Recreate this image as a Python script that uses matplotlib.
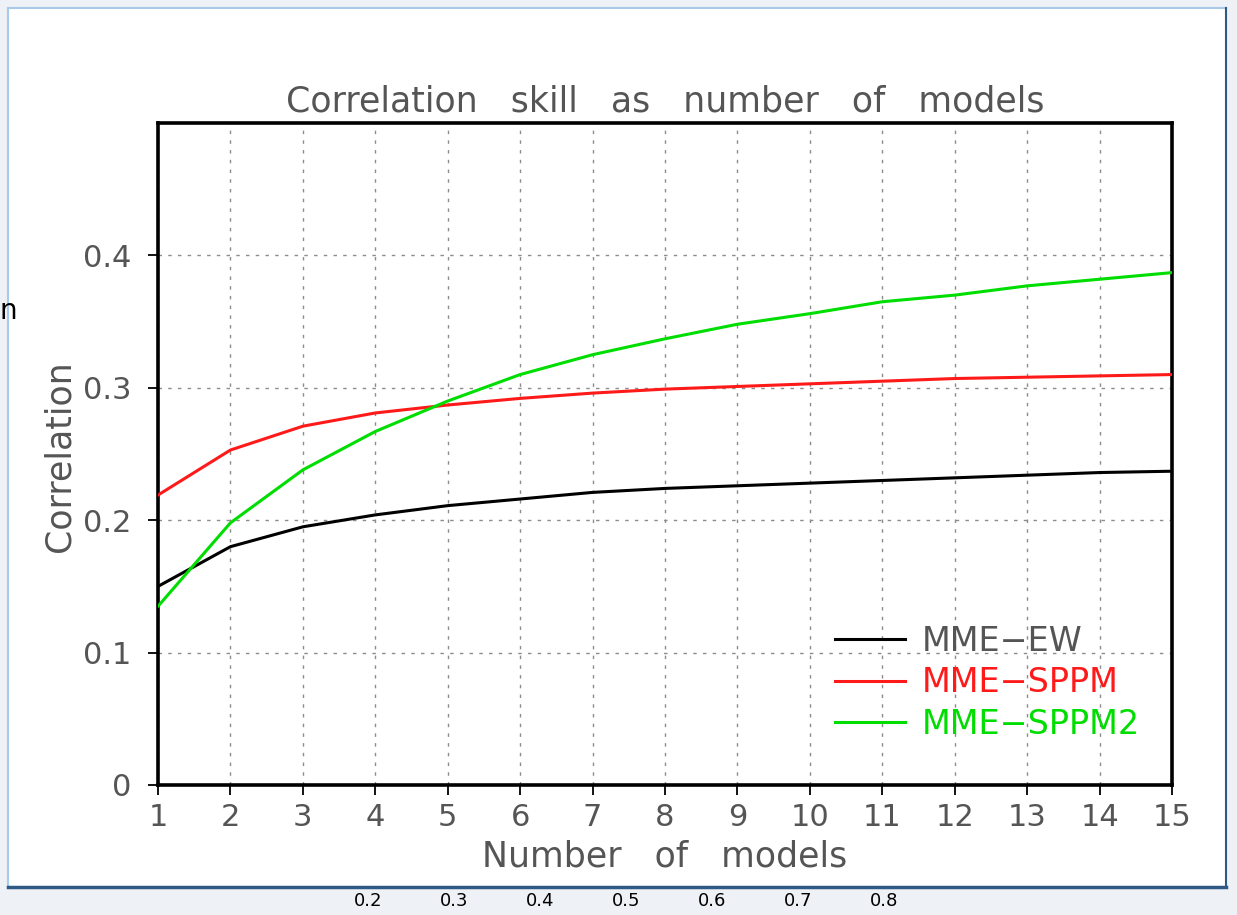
import numpy as np
import matplotlib
matplotlib.use("Agg")
import matplotlib.pyplot as plt
from matplotlib.patches import Rectangle

# values
n_models = list(range(1, 16))
mme_ew = [0.150, 0.180, 0.195, 0.204, 0.211, 0.216, 0.221, 0.224, 0.226,
          0.228, 0.230, 0.232, 0.234, 0.236, 0.237]
mme_sppm = [0.219, 0.253, 0.271, 0.281, 0.287, 0.292, 0.296, 0.299, 0.301,
            0.303, 0.305, 0.307, 0.308, 0.309, 0.310]
mme_sppm2 = [0.135, 0.198, 0.238, 0.267, 0.290, 0.310, 0.325, 0.337, 0.348,
             0.356, 0.365, 0.370, 0.377, 0.382, 0.387]
series_names = ["MME\u2212EW", "MME\u2212SPPM", "MME\u2212SPPM2"]
series_colors = ["#000000", "#ff1a1a", "#00dd00"]
y_ticks = [0, 0.1, 0.2, 0.3, 0.4]
y_tick_labels = ["0", "0.1", "0.2", "0.3", "0.4"]
# stray labels from the page under the screenshot
strip_labels = ["0.2", "0.3", "0.4", "0.5", "0.6", "0.7", "0.8"]

W, H = 1237, 915
fig = plt.figure(figsize=(W / 100, H / 100), dpi=100)
fig.patch.set_facecolor("#eef1f5")

def px(x, y):
    # pixel (from top-left) -> figure fraction
    return x / W, 1 - y / H

# white screenshot panel with its borders
x0, y0 = px(8, 887)
x1, y1 = px(1226, 8)
fig.patches.append(Rectangle((x0, y0), x1 - x0, y1 - y0, transform=fig.transFigure,
                             facecolor="white", edgecolor="none", zorder=-5))
fig.add_artist(plt.Line2D([x0, x1], [y1, y1], transform=fig.transFigure,
                          color="#a9c9ea", lw=1.5, zorder=-4))
fig.add_artist(plt.Line2D([x0, x0], [y0, y1], transform=fig.transFigure,
                          color="#a9c9ea", lw=1.5, zorder=-4))
fig.add_artist(plt.Line2D([x0, x1], [y0, y0], transform=fig.transFigure,
                          color="#2f5a86", lw=2.5, zorder=-4))
fig.add_artist(plt.Line2D([x1, x1], [y0, y1], transform=fig.transFigure,
                          color="#2f5a86", lw=1.5, zorder=-4))

# axes box: x 158..1172, y 123..785 px
ax_l, ax_b = px(158, 785)
ax_r, ax_t = px(1172, 123)
ax = fig.add_axes([ax_l, ax_b, ax_r - ax_l, ax_t - ax_b])
ax.set_facecolor("none")

for vals, name, col in zip([mme_ew, mme_sppm, mme_sppm2], series_names, series_colors):
    ax.plot(n_models, vals, color=col, lw=2.2, label=name, zorder=3)

ax.set_xlim(1, 15)
ax.set_ylim(0, 0.5)
ax.set_xticks(n_models)
ax.set_yticks(y_ticks)
ax.set_yticklabels(y_tick_labels)
ax.grid(True, color="#8c8c8c", linestyle=(0, (2.5, 4.5)), lw=1.0)
for s in ax.spines.values():
    s.set_linewidth(2.6)
    s.set_color("black")

txt_col = "#555555"
ax.tick_params(axis="both", direction="out", length=7, width=1.3, color="black",
               labelsize=22, labelcolor=txt_col)
ax.tick_params(axis="y", pad=12)
ax.tick_params(axis="x", pad=6)
ax.set_title("Correlation   skill   as   number   of   models", fontsize=25,
             color=txt_col, pad=8)
ax.set_xlabel("Number   of   models", fontsize=25, color=txt_col)
ax.xaxis.set_label_coords(0.5, -0.083)
ax.set_ylabel("Correlation", fontsize=25, color=txt_col, va="center")
ax.yaxis.set_label_coords(-0.097, 0.497)

leg = ax.legend(loc="lower left", bbox_to_anchor=(0.668, 0.067), frameon=False,
                fontsize=24, handlelength=2.1, handletextpad=0.5,
                labelspacing=0.25, borderaxespad=0, borderpad=0)
for t, col in zip(leg.get_texts(), series_colors):
    t.set_color(col if col != "#000000" else txt_col)

# character at the left edge and labels under the panel
fig.text(*px(0, 311), "n", fontsize=20, color="black", va="center", ha="left")
for i, lab in enumerate(strip_labels):
    fig.text(*px(368 + i * 86, 901), lab, fontsize=13, color="black",
             ha="center", va="center")

fig.savefig("out.png", dpi=100, facecolor=fig.get_facecolor())
